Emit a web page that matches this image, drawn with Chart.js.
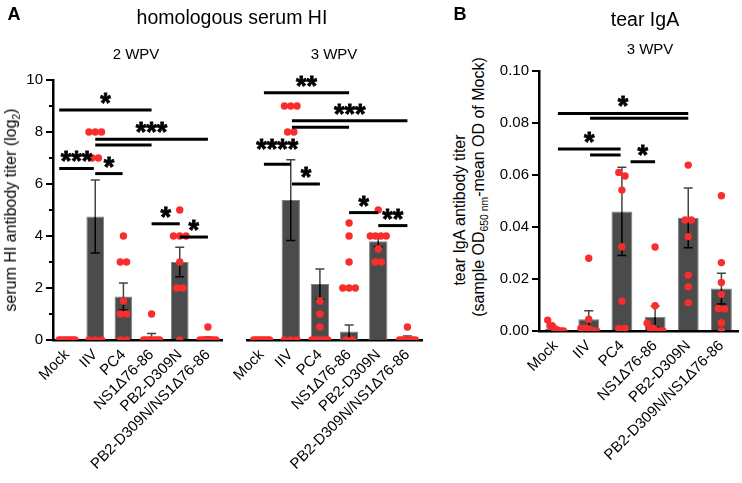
<!DOCTYPE html>
<html>
<head>
<meta charset="utf-8">
<script src="https://cdn.jsdelivr.net/npm/chart.js@4.4.1/dist/chart.umd.min.js"></script>
<style>
  body { margin: 0; background: #fff; font-family: "Liberation Sans", Arial, sans-serif; }
  #wrap { position: relative; width: 742px; height: 483px; overflow: hidden; }
  canvas { position: absolute; top: 0; }
  .t { position: absolute; white-space: nowrap; color: #000; transform: translate(-50%, -50%); }
  .rot { transform: translate(-50%, -50%) rotate(-90deg); }
  sub { font-size: 65%; }
</style>
</head>
<body>
<div id="wrap">
  <canvas id="hi2" width="232" height="483" style="left:0px"></canvas>
  <canvas id="hi3" width="232" height="483" style="left:200px"></canvas>
  <canvas id="iga" width="243" height="483" style="left:499px"></canvas>

  <div class="t" style="left:14px;top:14px;font-size:18px;font-weight:bold">A</div>
  <div class="t" style="left:232px;top:17px;font-size:19.5px">homologous serum HI</div>
  <div class="t" style="left:136px;top:53px;font-size:15px">2 WPV</div>
  <div class="t" style="left:334px;top:53px;font-size:15px">3 WPV</div>
  <div class="t rot" style="left:12px;top:210px;font-size:16px">serum HI antibody titer (log<sub>2</sub>)</div>

  <div class="t" style="left:460px;top:14px;font-size:18px;font-weight:bold">B</div>
  <div class="t" style="left:645px;top:19px;font-size:19.5px">tear IgA</div>
  <div class="t" style="left:650px;top:48px;font-size:15px">3 WPV</div>
  <div class="t rot" style="left:460px;top:210px;font-size:16px">tear IgA antibody titer</div>
  <div class="t rot" style="left:480px;top:187px;font-size:16px">(sample OD<sub>650 nm</sub>-mean OD of Mock)</div>
</div>
<script>
Chart.defaults.font.family = '"Liberation Sans", Arial, sans-serif';
Chart.defaults.color = '#000';

// Colors
var barColor = '#4b4b4b';
var barEdge = '#808080';
var dotColor = 'rgb(250, 45, 45)';

var groups = ['Mock', 'IIV', 'PC4', 'NS1Δ76-86', 'PB2-D309N', 'PB2-D309N/NS1Δ76-86'];

// A, 2 WPV - serum HI titer (log2)
var hi2Means = [0, 4.75, 1.67, 0.125, 3.0, 0.06];
var hi2Sem = [0, 1.4, 0.52, 0.125, 0.57, 0.06];
var hi2Dots = [
  [0, 0, 0, 0, 0, 0, 0, 0],
  [8, 8, 8, 7, 7, 0, 0, 0],
  [4, 3, 3, 1.5, 1, 1, 0, 0],
  [1, 0, 0, 0, 0, 0, 0, 0],
  [5, 4, 4, 4, 3, 2, 2, 0],
  [0.5, 0, 0, 0, 0, 0, 0, 0]
];
var hi2Sig = [
  { stars: '***', lines: [[-0.28, 0.95, 6.6]] },
  { stars: '*', lines: [[1, 1.97, 6.4]] },
  { stars: '*', lines: [[-0.28, 3, 8.85]] },
  { stars: '***', lines: [[1, 5, 7.72], [1, 3, 7.5]] },
  { stars: '*', lines: [[3, 4, 4.47]] },
  { stars: '*', lines: [[4, 5, 3.96]] }
];

// A, 3 WPV
var hi3Means = [0, 5.38, 2.15, 0.33, 3.8, 0.08];
var hi3Sem = [0, 1.55, 0.58, 0.25, 0.21, 0.07];
var hi3Dots = [
  [0, 0, 0, 0, 0, 0, 0, 0],
  [9, 9, 9, 8, 8, 0, 0, 0],
  [1.5, 1, 0.5, 0, 0, 0, 0, 0],
  [4.5, 4, 3, 2, 2, 2, 0, 0],
  [5, 4, 4, 4, 4, 3.5, 3, 3],
  [0.5, 0, 0, 0, 0, 0, 0, 0]
];
var hi3Sig = [
  { stars: '**', lines: [[0.08, 3, 9.51]] },
  { stars: '***', lines: [[1.04, 5, 8.43], [1.04, 3, 8.18]] },
  { stars: '****', lines: [[0.08, 1, 6.76]], at: 7.58 },
  { stars: '*', lines: [[1.04, 2, 6.0]] },
  { stars: '*', lines: [[3, 4, 4.9]] },
  { stars: '**', lines: [[4, 5, 4.4]] }
];

// B - tear IgA, 3 WPV
var igaMeans = [0.001, 0.0045, 0.046, 0.0055, 0.0435, 0.0163];
var igaSem = [0, 0.0033, 0.017, 0.0041, 0.0115, 0.0059];
var igaDots = [
  [0.0042, 0.002, 0.002, 0.001, 0.0005, 0, 0, 0],
  [0.028, 0.0045, 0.001, 0.001, 0.001, 0.0005, 0, 0],
  [0.061, 0.0596, 0.0542, 0.0324, 0.0115, 0.001, 0.001],
  [0.0323, 0.0097, 0.003, 0.001, 0.001, 0, 0, 0],
  [0.0638, 0.0427, 0.0427, 0.0363, 0.0215, 0.017, 0.0109],
  [0.052, 0.0263, 0.0187, 0.0141, 0.0087, 0.0085, 0.0032, 0]
];
var igaSig = [
  { stars: '*', lines: [[0.07, 4, 0.0837], [1.04, 4, 0.0818]] },
  { stars: '*', lines: [[0.07, 1.96, 0.07], [1.04, 1.96, 0.0677]] },
  { stars: '*', lines: [[2.26, 3, 0.0651]] }
];

// spread dots that sit at (nearly) the same height side by side
function swarm(dots, pxPerUnit, pxPerCat) {
  var pts = [];
  dots.forEach(function (vals, i) {
    var sorted = vals.slice().sort(function (a, b) { return b - a; });
    var clusters = [];
    sorted.forEach(function (v) {
      var last = clusters[clusters.length - 1];
      if (last && (last[last.length - 1] - v) * pxPerUnit < 6) last.push(v);
      else clusters.push([v]);
    });
    clusters.forEach(function (c) {
      var step = c.length > 1 ? Math.min(6.3, 16 / (c.length - 1)) : 0;
      c.forEach(function (v, k) {
        pts.push({ x: i + (k - (c.length - 1) / 2) * step / pxPerCat, y: v });
      });
    });
  });
  return pts;
}

// error bars (after bars, before dots), significance lines, minor ticks
function marks(means, sem, sig, minor) {
  return {
    id: 'marks',
    afterDatasetDraw: function (chart, args) {
      if (chart.data.datasets[args.index].type !== 'bar') return;
      var ctx = chart.ctx, x = chart.scales.x, y = chart.scales.y;
      ctx.save();
      ctx.lineWidth = 1.5;
      means.forEach(function (m, i) {
        if (!sem[i]) return;
        var px = x.getPixelForValue(i);
        var mid = y.getPixelForValue(m);
        var top = y.getPixelForValue(m + sem[i]);
        var bot = y.getPixelForValue(Math.max(0, m - sem[i]));
        ctx.strokeStyle = '#444';
        ctx.beginPath();
        ctx.moveTo(px, mid); ctx.lineTo(px, top);
        ctx.moveTo(px - 4.5, top); ctx.lineTo(px + 4.5, top);
        ctx.stroke();
        ctx.strokeStyle = '#000';
        ctx.beginPath();
        ctx.moveTo(px, mid); ctx.lineTo(px, bot);
        ctx.moveTo(px - 4.5, bot); ctx.lineTo(px + 4.5, bot);
        ctx.stroke();
      });
      ctx.restore();
    },
    afterDraw: function (chart) {
      var ctx = chart.ctx, x = chart.scales.xs, y = chart.scales.y;
      ctx.save();
      ctx.strokeStyle = '#000';
      ctx.fillStyle = '#000';
      sig.forEach(function (g) {
        ctx.lineWidth = 3;
        g.lines.forEach(function (l) {
          var py = y.getPixelForValue(l[2]);
          ctx.beginPath();
          ctx.moveTo(x.getPixelForValue(l[0]), py);
          ctx.lineTo(x.getPixelForValue(l[1]), py);
          ctx.stroke();
        });
        var f = g.lines[0];
        var cx = (x.getPixelForValue(f[0]) + x.getPixelForValue(f[1])) / 2;
        var cy = g.at !== undefined ? y.getPixelForValue(g.at) : y.getPixelForValue(f[2]) - 13;
        ctx.font = 'bold 27px "Liberation Sans", Arial, sans-serif';
        ctx.textAlign = 'center';
        ctx.textBaseline = 'alphabetic';
        ctx.lineWidth = 0.8;
        ctx.fillText(g.stars, cx, cy + 15);
        ctx.strokeText(g.stars, cx, cy + 15);
      });
      if (minor) {
        var ax = chart.chartArea.left;
        ctx.lineWidth = 2;
        for (var v = y.min + 1; v < y.max; v += 2) {
          var py = y.getPixelForValue(v);
          ctx.beginPath();
          ctx.moveTo(ax - 4, py);
          ctx.lineTo(ax, py);
          ctx.stroke();
        }
      }
      ctx.restore();
    }
  };
}

function makeChart(id, opts) {
  return new Chart(document.getElementById(id), {
    type: 'bar',
    data: {
      labels: groups,
      datasets: [
        {
          type: 'scatter',
          data: swarm(opts.dots, opts.pxPerUnit, opts.pxPerCat),
          xAxisID: 'xs',
          pointRadius: 3.7,
          pointBackgroundColor: dotColor,
          pointBorderWidth: 0,
          order: 1
        },
        {
          type: 'bar',
          data: opts.means,
          backgroundColor: barColor,
          borderColor: barEdge,
          borderWidth: 1,
          grouped: false,
          barPercentage: 0.63,
          categoryPercentage: 1,
          order: 2
        }
      ]
    },
    options: {
      responsive: false,
      animation: false,
      events: [],
      layout: { padding: opts.padding },
      plugins: { legend: { display: false }, tooltip: { enabled: false } },
      scales: {
        x: {
          offset: true,
          grid: { display: false, drawTicks: false },
          border: { display: true, color: '#000', width: 2.5 },
          ticks: { font: { size: 15 }, maxRotation: 45, minRotation: 45, autoSkip: false, padding: 6 },
          afterFit: function (s) { s.height = opts.xHeight; }
        },
        xs: { type: 'linear', display: false, offset: false, min: -0.5, max: 5.5 },
        y: {
          display: opts.showY,
          min: 0,
          max: opts.yMax,
          grid: { drawOnChartArea: false, drawTicks: true, tickLength: 7, color: '#000', lineWidth: 2 },
          border: { display: true, color: '#000', width: 2.5 },
          ticks: {
            stepSize: opts.step,
            font: { size: 15 },
            padding: 3,
            callback: opts.fmt
          },
          afterFit: function (s) { s.width = opts.yWidth; }
        }
      }
    },
    plugins: [marks(opts.means, opts.sem, opts.sig, opts.minor)]
  });
}

var hi2Chart = makeChart('hi2', {
  dots: hi2Dots, means: hi2Means, sem: hi2Sem, sig: hi2Sig,
  pxPerUnit: 26, pxPerCat: 28.2,
  padding: { left: 0, top: 80, right: 10, bottom: 0 },
  xHeight: 143, showY: true, yWidth: 53, yMax: 10, step: 2, minor: true,
  fmt: function (v) { return v; }
});

var hi3Chart = makeChart('hi3', {
  dots: hi3Dots, means: hi3Means, sem: hi3Sem, sig: hi3Sig,
  pxPerUnit: 26, pxPerCat: 29.2,
  padding: { left: 47, top: 80, right: 10, bottom: 0 },
  xHeight: 143, showY: false, yWidth: 0, yMax: 10, step: 2, minor: false,
  fmt: function (v) { return v; }
});

var igaChart = makeChart('iga', {
  dots: igaDots, means: igaMeans, sem: igaSem, sig: igaSig,
  pxPerUnit: 2600, pxPerCat: 33.6,
  padding: { left: 0, top: 71, right: 2, bottom: 0 },
  xHeight: 152, showY: true, yWidth: 40, yMax: 0.1, step: 0.02, minor: false,
  fmt: function (v) { return v.toFixed(2); }
});
</script>
</body>
</html>
